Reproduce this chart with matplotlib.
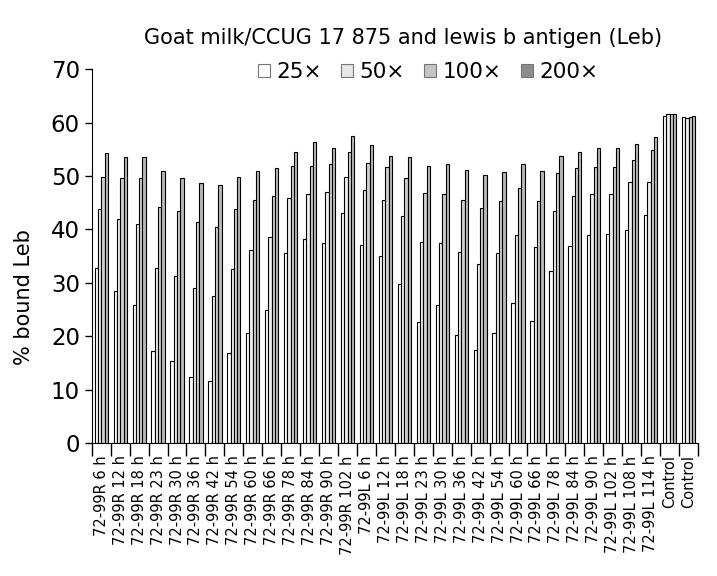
import matplotlib.pyplot as plt
from matplotlib.patches import Patch
import numpy as np

times_r = [6, 12, 18, 23, 30, 36, 42, 54, 60, 66, 78, 84, 90, 102]
times_l = [6, 12, 18, 23, 30, 36, 42, 54, 60, 66, 78, 84, 90, 102, 108, 114]
labels = ([f"72-99R {t} h" for t in times_r] + [f"72-99L {t} h" for t in times_l]
          + ["Control", "Control"])

# % bound Leb per dilution
d25 = [32.8, 28.5, 25.9, 17.3, 15.4, 12.3, 11.6, 16.8, 20.6, 24.9, 35.6, 38.2, 37.5, 43.1,
       37.1, 35.0, 29.8, 22.6, 25.8, 20.2, 17.4, 20.6, 26.2, 22.8, 32.2, 36.8, 39.0, 39.2, 39.9, 42.7,
       61.3, 61.0]
d50 = [43.8, 42.0, 41.0, 32.8, 31.3, 29.0, 27.5, 32.6, 36.2, 38.6, 45.9, 46.7, 46.9, 49.8,
       47.4, 45.5, 42.5, 37.6, 37.5, 35.8, 33.5, 35.6, 39.0, 36.7, 43.5, 46.3, 46.7, 46.7, 48.9, 48.9,
       61.6, 60.9]
d100 = [49.8, 49.7, 49.7, 44.2, 43.5, 41.4, 40.5, 43.8, 45.4, 46.2, 51.9, 51.9, 52.3, 54.5,
        52.5, 51.7, 49.7, 46.8, 46.7, 45.5, 44.0, 45.3, 47.8, 45.3, 50.5, 51.5, 51.7, 51.7, 53.0, 54.9,
        61.6, 61.0]
d200 = [54.3, 53.6, 53.6, 51.0, 49.7, 48.7, 48.3, 49.8, 51.0, 51.5, 54.5, 56.4, 55.3, 57.4,
        55.7, 53.8, 53.6, 51.9, 52.3, 51.2, 50.2, 50.8, 52.3, 51.0, 53.8, 54.5, 55.3, 55.3, 56.0, 57.2,
        61.6, 61.2]

series = [d25, d50, d100, d200]
names = ["25×", "50×", "100×", "200×"]
bar_colors = ["#ffffff", "#eeeeee", "#d0d0d0", "#b8b8b8"]
legend_colors = ["#ffffff", "#e6e6e6", "#c4c4c4", "#8c8c8c"]

x = np.arange(len(labels))
w = 0.175

fig = plt.figure(figsize=(7.17, 5.76), dpi=100)
ax = fig.add_axes([0.128, 0.231, 0.8455, 0.649])

for i, vals in enumerate(series):
    ax.bar(x + (i - 1.5) * w, vals, w, color=bar_colors[i], edgecolor="black", linewidth=0.8)

ax.set_xlim(-0.5, len(labels) - 0.5)
ax.set_ylim(0, 70)
ax.set_yticks(range(0, 71, 10))
ax.tick_params(axis="y", labelsize=16.5, direction="out", length=5, width=1)
ax.set_xticks(x)
ax.set_xticklabels(labels, rotation=90, fontsize=10.5)
ax.tick_params(axis="x", which="major", length=0, pad=9)
ax.set_xticks(np.arange(-0.5, len(labels), 1), minor=True)
ax.tick_params(axis="x", which="minor", length=9, width=1, direction="out")

for s in ["top", "right"]:
    ax.spines[s].set_visible(False)

ax.set_ylabel("% bound Leb", fontsize=15)
ax.yaxis.set_label_coords(-0.095, 0.39)

fig.text(403 / 717, 1 - 38 / 576, "Goat milk/CCUG 17 875 and lewis b antigen (Leb)",
         ha="center", va="center", fontsize=15)

handles = [Patch(facecolor=c, edgecolor="#777777", linewidth=0.8) for c in legend_colors]
fig.legend(handles, names, loc="center", bbox_to_anchor=(428 / 717, 1 - 72 / 576), ncol=4,
           frameon=False, fontsize=15.5, handlelength=0.55, handleheight=0.55,
           handletextpad=0.3, columnspacing=0.9, borderpad=0)

fig.savefig("out.png", dpi=100)
